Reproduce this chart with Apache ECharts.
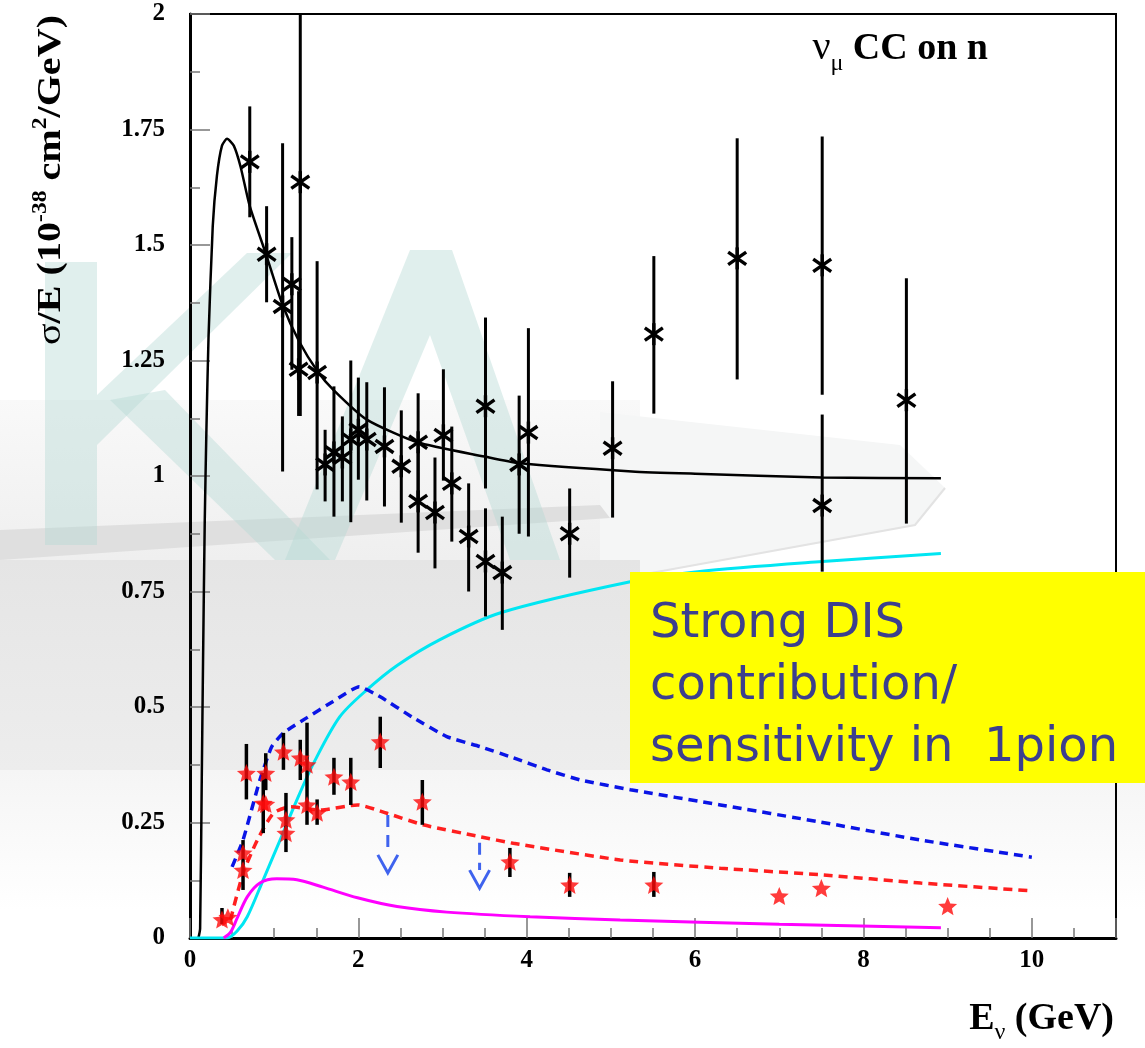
<!DOCTYPE html>
<html><head><meta charset="utf-8">
<script src="https://cdn.jsdelivr.net/npm/echarts@6/dist/echarts.min.js"></script>
<style>html,body{margin:0;padding:0;background:#fff}#c{width:1145px;height:1048px}</style>
</head><body><div id="c"></div>
<script>
// ---------------- DATA ----------------
const xTickLabels = [0, 2, 4, 6, 8, 10];
// total nu_mu CC on n (black solid)
const totalX = [0.10,0.12,0.14,0.155,0.175,0.195,0.22,0.27,0.32,0.38,0.44,0.52,0.60,0.71,0.91,1.10,1.30,1.51,1.70,2.10,2.70,3.50,3.90,5.25,6.00,7.50,8.92];
const totalY = [0,0.02,0.35,0.6,0.9,1.1,1.3,1.54,1.65,1.715,1.73,1.715,1.67,1.584,1.476,1.37,1.29,1.228,1.187,1.122,1.073,1.042,1.028,1.01,1.005,0.997,0.995];
// DIS (cyan)
const disX = [0,0.44,0.56,0.68,0.87,1.07,1.27,1.47,1.78,2.1,2.46,2.97,3.69,5.23,6.03,7.51,8.92];
const disY = [0,0,0.015,0.046,0.126,0.212,0.299,0.379,0.479,0.537,0.59,0.646,0.704,0.771,0.793,0.815,0.832];
// magenta
const magX = [0.40,0.48,0.56,0.68,0.83,1.03,1.27,1.58,1.99,2.46,3.05,4.04,5.11,7.0,8.92];
const magY = [0,0.012,0.043,0.089,0.119,0.128,0.126,0.11,0.087,0.068,0.056,0.046,0.039,0.03,0.022];
// blue dashed
const blueX = [0.5,0.63,0.83,0.97,1.11,1.39,1.70,2.01,2.26,2.65,3.05,3.45,3.84,4.24,4.64,5.23,6.3,7.49,8.68,10.0];
const blueY = [0.154,0.212,0.342,0.414,0.444,0.477,0.512,0.544,0.522,0.477,0.436,0.414,0.39,0.364,0.342,0.321,0.288,0.251,0.212,0.175];
// red dashed
const redX = [0.48,0.63,0.80,0.99,1.19,1.55,1.99,2.34,2.77,3.45,3.84,5.11,6.3,7.49,8.68,10.0];
const redY = [0.039,0.14,0.212,0.27,0.284,0.277,0.288,0.27,0.245,0.219,0.205,0.169,0.151,0.137,0.119,0.102];
// black asterisk data points with error bars
const ccX  = [0.71,0.91,1.10,1.21,1.31,1.29,1.51,1.605,1.71,1.81,1.91,2.00,2.10,2.31,2.51,2.71,2.71,2.91,3.01,3.11,3.31,3.51,3.51,3.71,3.91,4.02,4.51,5.02,5.51,6.50,7.51,7.51,8.51];
const ccY  = [1.68,1.48,1.367,1.415,1.636,1.231,1.224,1.025,1.051,1.04,1.079,1.10,1.079,1.064,1.021,1.073,0.945,0.921,1.088,0.984,0.869,1.151,0.815,0.791,1.025,1.094,0.875,1.06,1.307,1.471,1.456,0.936,1.164];
const ccLo = [1.56,1.376,1.01,1.23,1.13,1.13,0.971,0.945,0.912,0.945,0.90,0.992,0.947,0.934,0.899,0.95,0.834,0.80,0.99,0.858,0.75,0.973,0.696,0.667,0.875,0.869,0.78,0.91,1.135,1.209,1.176,0.793,0.897];
const ccHi = [1.80,1.584,1.72,1.517,2.00,1.40,1.465,1.10,1.194,1.129,1.25,1.213,1.203,1.192,1.142,1.179,1.06,1.04,1.231,1.107,0.984,1.343,0.93,0.912,1.174,1.32,0.973,1.205,1.476,1.731,1.735,1.133,1.428];
// red star data points (1 pion) with error bars (null = no bar)
const piX  = [0.38,0.45,0.63,0.63,0.67,0.87,0.90,0.90,1.11,1.14,1.14,1.31,1.39,1.39,1.51,1.71,1.91,2.26,2.76,3.80,4.51,5.51,7.0,7.5,9.0];
const piY  = [0.04,0.045,0.184,0.147,0.357,0.292,0.357,0.29,0.403,0.256,0.227,0.39,0.375,0.288,0.271,0.349,0.338,0.425,0.295,0.165,0.115,0.115,0.091,0.108,0.069];
const piLo = [0.03,null,0.104,null,0.30,0.227,0.32,null,0.364,0.186,null,0.342,0.245,null,0.245,0.31,0.288,0.368,0.245,0.132,0.089,0.089,null,null,null];
const piHi = [0.065,null,0.212,null,0.42,0.357,0.40,null,0.444,0.314,null,0.429,0.466,null,0.30,0.39,0.39,0.479,0.342,0.195,0.141,0.143,null,null,null];
// upper-limit arrows
const arrX = [2.35, 3.44];
const arrTop = [0.266, 0.206];
const arrTip = [0.141, 0.108];

// ---------------- HELPERS ----------------
const SERIF = '"Liberation Serif", "Times New Roman", serif';
const mctx = document.createElement('canvas').getContext('2d');
function tw(t, font){ mctx.font = font; return mctx.measureText(t).width; }
function zip(a,b){ return a.map((v,i)=>[v,b[i]]); }
function starPath(){
  let p='';
  for(let i=0;i<10;i++){ const r=i%2?0.45:1; const a=-Math.PI/2+i*Math.PI/5;
    p+=(i?'L':'M')+(r*Math.cos(a)).toFixed(4)+' '+(r*Math.sin(a)).toFixed(4)+' '; }
  return 'path://'+p+'Z';
}
function textPieces(pieces){
  let x=0; const els=[];
  pieces.forEach(([t,fs,sh,w])=>{
    const font=`${w} ${fs}px ${SERIF}`;
    els.push({type:'text', x:x, y:-0.34*fs+sh, style:{text:t, font:font, fill:'#000', textAlign:'left', textVerticalAlign:'middle'}});
    x+=tw(t,font);
  });
  return {els, width:x};
}

const chart = echarts.init(document.getElementById('c'));

const title = textPieces([['ν',40,0,'normal'],['μ',24,10,'normal'],[' CC on n',38,0,'bold']]);
const xname = textPieces([['E',38,0,'bold'],['ν',24,9,'normal'],[' (GeV)',38,0,'bold']]);
const yname = textPieces([['σ',34,0,'normal'],['/E (10',34,0,'bold'],['-38',20,-15,'bold'],[' cm',34,0,'bold'],['2',20,-15,'bold'],['/GeV)',34,0,'bold']]);
const yScale = 330 / yname.width;

const teal = 'rgba(180,218,213,0.42)';
const bgEls = [
  {type:'rect', shape:{x:0,y:400,width:640,height:160}, style:{fill:new echarts.graphic.LinearGradient(0,0,0,1,[{offset:0,color:'#f9f9f9'},{offset:1,color:'#efefef'}])}, z:-20},
  {type:'polygon', shape:{points:[[600,412],[900,445],[945,488],[915,525],[640,575],[600,575]]}, style:{fill:'#f5f6f6'}, z:-20},
  {type:'polyline', shape:{points:[[945,488],[915,525],[640,575]]}, style:{stroke:'#e3e3e3', lineWidth:2, fill:null}, z:-20},
  {type:'rect', shape:{x:0,y:560,width:640,height:210}, style:{fill:new echarts.graphic.LinearGradient(0,0,0,1,[{offset:0,color:'#e5e5e5'},{offset:1,color:'#ededed'}])}, z:-20},
  {type:'rect', shape:{x:0,y:770,width:1145,height:140}, style:{fill:new echarts.graphic.LinearGradient(0,0,0,1,[{offset:0,color:'#f5f5f5'},{offset:1,color:'#ffffff'}])}, z:-20},
  {type:'polygon', shape:{points:[[0,530],[600,505],[610,518],[0,560]]}, style:{fill:'#dfdfdf'}, z:-19},
  // "K"
  {type:'rect', shape:{x:45,y:262,width:52,height:283}, style:{fill:teal}, z:-18},
  {type:'polygon', shape:{points:[[97,395],[247,253],[292,253],[97,445]]}, style:{fill:teal}, z:-18},
  {type:'polygon', shape:{points:[[110,400],[165,390],[330,560],[275,560]]}, style:{fill:teal}, z:-18},
  // "A"
  {type:'polygon', shape:{points:[[285,560],[410,250],[452,250],[560,560],[510,560],[430,335],[335,560]]}, style:{fill:teal}, z:-18}
];

const boxFont = '48px "DejaVu Sans"';
const option = {
  animation:false,
  backgroundColor:'#ffffff',
  grid:{left:190,right:29,top:14,bottom:110,show:true,borderColor:'#000',borderWidth:2,backgroundColor:'transparent'},
  xAxis:{type:'value',min:0,max:11,interval:2,
    axisLine:{show:true,onZero:false,lineStyle:{color:'#000',width:3}},
    axisTick:{show:true,inside:true,length:20,lineStyle:{color:'#777',width:1.5}},
    minorTick:{show:true,splitNumber:4,length:10,lineStyle:{color:'#777',width:1.5}},
    splitLine:{show:false},
    axisLabel:{color:'#000',fontFamily:SERIF,fontWeight:'bold',fontSize:25,margin:10,
      formatter:v=> xTickLabels.indexOf(v)>=0 ? String(v) : ''}},
  yAxis:{type:'value',min:0,max:2,interval:0.25,
    axisLine:{show:true,onZero:false,lineStyle:{color:'#000',width:3}},
    axisTick:{show:true,inside:true,length:20,lineStyle:{color:'#777',width:1.5}},
    minorTick:{show:true,splitNumber:2,length:10,lineStyle:{color:'#777',width:1.5}},
    splitLine:{show:false},
    axisLabel:{color:'#000',fontFamily:SERIF,fontWeight:'bold',fontSize:25,margin:25}},
  series:[
    {type:'line',data:zip(totalX,totalY),showSymbol:false,smooth:0.2,lineStyle:{color:'#000',width:2.5},z:3},
    {type:'line',data:zip(disX,disY),showSymbol:false,smooth:0.3,lineStyle:{color:'#00e6f2',width:3},z:3},
    {type:'line',data:zip(magX,magY),showSymbol:false,smooth:0.3,lineStyle:{color:'#ff00ff',width:3},z:3},
    {type:'line',data:zip(blueX,blueY),showSymbol:false,smooth:0.15,lineStyle:{color:'#0a14e6',width:3.5,type:[9,6]},z:3},
    {type:'line',data:zip(redX,redY),showSymbol:false,smooth:0.2,lineStyle:{color:'#ff1f1f',width:3.5,type:[9,6]},z:3},
    {type:'custom',z:5,encode:{x:0,y:1},
      data:ccX.map((x,i)=>[x,ccY[i],ccLo[i],ccHi[i]]),
      renderItem:(params,api)=>{
        const x=api.value(0), y=api.value(1);
        const c=api.coord([x,y]), lo=api.coord([x,api.value(2)]), hi=api.coord([x,api.value(3)]);
        const ch=[{type:'line',shape:{x1:c[0],y1:hi[1],x2:c[0],y2:lo[1]},style:{stroke:'#000',lineWidth:3}}];
        const r=11;
        [35,145].forEach(a=>{const rad=a*Math.PI/180,dx=r*Math.cos(rad),dy=r*Math.sin(rad);
          ch.push({type:'line',shape:{x1:c[0]-dx,y1:c[1]-dy,x2:c[0]+dx,y2:c[1]+dy},style:{stroke:'#000',lineWidth:3.4}});});
        ch.push({type:'line',shape:{x1:c[0],y1:c[1]-r,x2:c[0],y2:c[1]+r},style:{stroke:'#000',lineWidth:3.4}});
        return {type:'group',children:ch};
      }},
    {type:'custom',z:5,encode:{x:0,y:1},
      data:piX.map((x,i)=>[x,piY[i],piLo[i]==null?piY[i]:piLo[i],piHi[i]==null?piY[i]:piHi[i]]),
      renderItem:(params,api)=>{
        const x=api.value(0);
        const lo=api.coord([x,api.value(2)]), hi=api.coord([x,api.value(3)]);
        return {type:'line',shape:{x1:lo[0],y1:hi[1],x2:lo[0],y2:lo[1]},style:{stroke:'#000',lineWidth:3.5}};
      }},
    {type:'scatter',z:6,data:zip(piX,piY),symbol:starPath(),symbolSize:19,symbolKeepAspect:true,
      itemStyle:{color:'#ff0a0a'}},
    {type:'custom',z:6,encode:{x:0,y:1},
      data:arrX.map((x,i)=>[x,arrTop[i],arrTip[i]]),
      renderItem:(params,api)=>{
        const x=api.value(0);
        const t=api.coord([x,api.value(1)]), b=api.coord([x,api.value(2)]);
        const col='#3f63ee';
        return {type:'group',children:[
          {type:'line',shape:{x1:t[0],y1:t[1],x2:t[0],y2:b[1]-18},style:{stroke:col,lineWidth:3,lineDash:[12,8]}},
          {type:'polyline',shape:{points:[[b[0]-10,b[1]-18],[b[0],b[1]],[b[0]+10,b[1]-18]]},style:{stroke:col,lineWidth:3,fill:null}}
        ]};
      }}
  ],
  graphic:{elements:[
    ...bgEls,
    {type:'group',x:988-title.width,y:62,children:title.els,z:10},
    {type:'group',x:1114-xname.width,y:1032,children:xname.els,z:10},
    {type:'group',x:63,y:345,rotation:Math.PI/2,scaleX:yScale,children:yname.els,z:10},
    {type:'rect',shape:{x:630,y:572,width:515,height:211},style:{fill:'#ffff00'},z:100},
    {type:'text',x:650,y:649,style:{text:'Strong DIS',font:boxFont,fill:'#3c3f8e',textVerticalAlign:'bottom'},z:101},
    {type:'text',x:650,y:711,style:{text:'contribution/',font:boxFont,fill:'#3c3f8e',textVerticalAlign:'bottom'},z:101},
    {type:'text',x:650,y:773,style:{text:'sensitivity in  1pion',font:boxFont,fill:'#3c3f8e',textVerticalAlign:'bottom'},z:101}
  ]}
};
chart.setOption(option);
</script></body></html>
